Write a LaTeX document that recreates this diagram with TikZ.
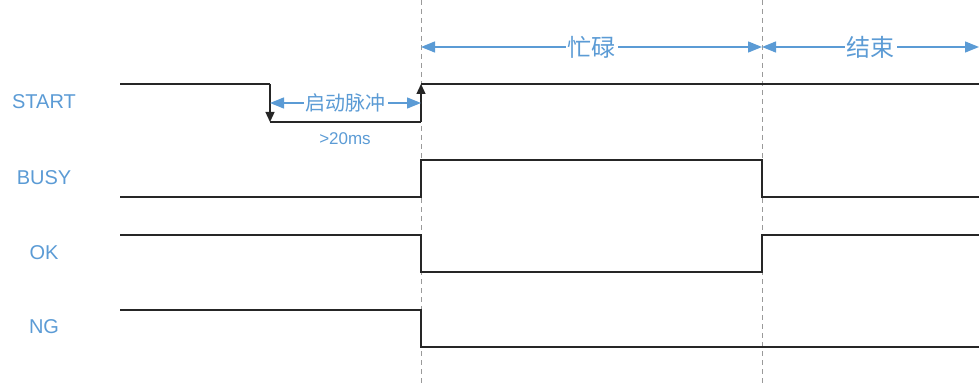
\documentclass[tikz,border=0pt]{standalone}
\usepackage{fontspec}
\setmainfont{Liberation Sans}
\newfontfamily\cjk{Noto Sans CJK SC}
\usetikzlibrary{arrows.meta}
\definecolor{sigBlue}{HTML}{5B9BD5}
\definecolor{gridGray}{HTML}{9A9A9A}

\begin{document}
\begin{tikzpicture}
[x=1pt,y=-1pt,
  sigLine/.style={line width=1.3pt,black!85},%
  pulseArrow/.style={sigLine,-{Triangle[length=10pt,width=9pt]}},%
  gridLine/.style={line width=1pt,gridGray,dash pattern=on 5pt off 4pt},%
  spanArrow/.style={line width=1.3pt,sigBlue,{Triangle[length=14pt,width=11pt]}-{Triangle[length=14pt,width=11pt]}},%
  spanText/.style={fill=white,inner sep=2pt,text=sigBlue,font=\cjk\fontsize{24}{27}\selectfont},%
  pulseText/.style={fill=white,inner sep=2pt,text=sigBlue,font=\cjk\fontsize{20}{24}\selectfont},%
  labelText/.style={text=sigBlue,inner sep=0pt,font=\fontsize{20}{24}\selectfont}]
\useasboundingbox (0,0) rectangle (979,385);
%% signal names
\foreach \name/\y in {START/102, BUSY/178, OK/253, NG/327}
{
  \node (\name) at (44,\y) [labelText] {\name};
}
%% time marks
\coordinate (t0) at (421,0);
\coordinate (t1) at (762,0);
\draw[gridLine] (t0) -- (421,385);
\draw[gridLine] (t1) -- (762,385);
%% phases
\draw[spanArrow] (421,47) -- node[spanText] (busyText) {忙碌} (762,47);
\draw[spanArrow] (762,47) -- node[spanText] (endText) {结束} (979,47);
%% START
\coordinate (startFall) at (270,84);
\coordinate (startLow) at (270,122);
\coordinate (startRise) at (421,122);
\coordinate (startHigh) at (421,84);
\draw[sigLine] (120,84) -- (startFall);
\draw[pulseArrow] (startFall) -- (startLow);
\draw[sigLine] (startLow) -- (startRise);
\draw[pulseArrow] (startRise) -- (startHigh);
\draw[sigLine] (startHigh) -- (979,84);
\draw[spanArrow] (270,103) -- node[pulseText] (pulseName) {启动脉冲} (421,103);
\node (pulseTime) at (345,139) [labelText,font=\fontsize{17}{20}\selectfont] {>20ms};
%% BUSY, OK, NG
\draw[sigLine] (120,197) -- (421,197) -- (421,160) -- (762,160) -- (762,197) -- (979,197);
\draw[sigLine] (120,235) -- (421,235) -- (421,272) -- (762,272) -- (762,235) -- (979,235);
\draw[sigLine] (120,310) -- (421,310) -- (421,347) -- (979,347);
\end{tikzpicture}
\end{document}
